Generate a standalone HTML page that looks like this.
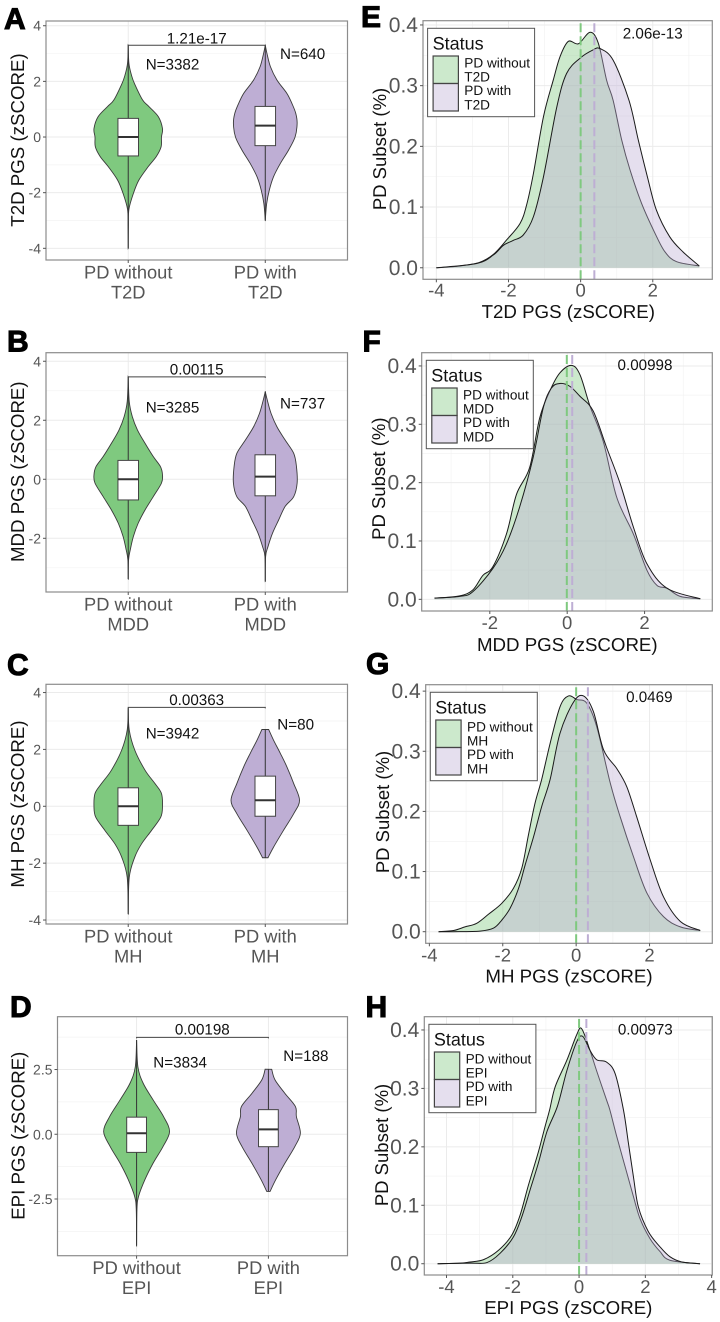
<!DOCTYPE html>
<html lang="en">
<head>
<meta charset="utf-8">
<title>PGS violin and density panels</title>
<style>
html,body{margin:0;padding:0;background:#fff;}
svg{display:block;font-family:"Liberation Sans",Arial,sans-serif;text-rendering:geometricPrecision;}
</style>
</head>
<body>
<svg id="figure" width="720" height="1322" viewBox="0 0 720 1322" xmlns="http://www.w3.org/2000/svg"></svg>
<script>
/* ---------- violin panel data (score, relative density) ---------- */
const violinATicks = [4, 2, 0, -2, -4];
const violinBTicks = [4, 2, 0, -2];
const violinCTicks = [4, 2, 0, -2, -4];
const violinDTicks = [2.5, 0, -2.5];
const violinDTickLabels = ['2.5', '0.0', '-2.5'];

const violinAGreenScores = [3.3, 2.65, 2.2, 1.9, 1.33, 1.1, 0.73, 0.3, 0, -0.35, -0.7, -1.07, -1.55, -2.03, -2.6, -3.2, -4];
const violinAGreenDensity = [0, 0.02, 0.1, 0.19, 0.42, 0.6, 0.88, 1, 0.97, 0.96, 0.82, 0.58, 0.31, 0.15, 0.02, 0.005, 0];
const violinAPurpleScores = [3.3, 3.0, 2.53, 2.05, 1.57, 1.2, 0.85, 0.49, 0, -0.47, -0.95, -1.43, -1.9, -2.4, -3.0];
const violinAPurpleDensity = [0, 0.05, 0.15, 0.34, 0.63, 0.78, 0.89, 0.93, 0.87, 0.68, 0.44, 0.24, 0.12, 0.04, 0];
const violinBGreenScores = [3.47, 2.63, 2.12, 1.67, 1.22, 0.77, 0.43, 0.15, -0.13, -0.59, -1.04, -1.49, -1.94, -2.39, -2.73, -3.38];
const violinBGreenDensity = [0, 0.03, 0.12, 0.27, 0.49, 0.73, 0.94, 1, 0.97, 0.73, 0.49, 0.29, 0.15, 0.06, 0.01, 0];
const violinBPurpleScores = [2.97, 2.68, 2.23, 1.78, 1.33, 0.88, 0.43, -0.13, -0.59, -0.92, -1.38, -1.83, -2.28, -2.62, -3.46];
const violinBPurpleDensity = [0, 0.06, 0.17, 0.34, 0.58, 0.83, 0.91, 0.93, 0.83, 0.58, 0.39, 0.21, 0.08, 0.01, 0];
const violinCGreenScores = [3.45, 2.68, 1.98, 1.27, 0.8, 0.45, 0, -0.38, -0.85, -1.32, -1.79, -2.5, -3.79];
const violinCGreenDensity = [0, 0.03, 0.19, 0.49, 0.78, 0.97, 1, 0.95, 0.68, 0.39, 0.19, 0.03, 0];
const violinCPurpleScores = [2.7, 2.33, 1.86, 1.39, 0.8, 0.21, -0.26, -0.85, -1.44, -1.81];
const violinCPurpleDensity = [0.1, 0.24, 0.44, 0.63, 0.83, 1, 0.83, 0.53, 0.24, 0.08];
const violinDGreenScores = [3.64, 2.6, 1.97, 1.33, 0.68, 0.1, -0.48, -1.12, -1.76, -2.4, -2.92, -4.3];
const violinDGreenDensity = [0, 0.04, 0.2, 0.5, 0.82, 1, 0.8, 0.5, 0.25, 0.06, 0.01, 0];
const violinDPurpleScores = [2.51, 2.1, 1.58, 1.07, 0.68, 0.04, -0.48, -1.12, -1.76, -2.21];
const violinDPurpleDensity = [0.1, 0.2, 0.5, 0.82, 0.85, 0.97, 0.8, 0.5, 0.22, 0.05];

/* box stats: lower quartile, median, upper quartile */
const boxAGreen = [-0.68, 0, 0.67];
const boxAPurple = [-0.31, 0.41, 1.1];
const boxBGreen = [-0.7, 0, 0.64];
const boxBPurple = [-0.56, 0.09, 0.83];
const boxCGreen = [-0.67, 0, 0.65];
const boxCPurple = [-0.35, 0.21, 1.06];
const boxDGreen = [-0.7, 0.04, 0.66];
const boxDPurple = [-0.48, 0.19, 0.95];

const bracketScores = [3.3, 3.47, 3.48, 3.74];

/* ---------- density panel data (z-score, density) ---------- */
const densityETicksX = [-4, -2, 0, 2];
const densityFTicksX = [-2, 0, 2];
const densityGTicksX = [-4, -2, 0, 2];
const densityHTicksX = [-4, -2, 0, 2, 4];
const densityTicksY = [0, 0.1, 0.2, 0.3, 0.4];

const densityEGreenX = [-4, -3.35, -2.8, -2.42, -2.05, -1.68, -1.5, -1.31, -1.03, -0.76, -0.57, -0.34, -0.06, 0.26, 0.49, 0.72, 0.9, 1.14, 1.37, 1.69, 2.06, 2.34, 2.66, 3.29];
const densityEGreenY = [0, 0.003, 0.009, 0.022, 0.046, 0.073, 0.103, 0.155, 0.249, 0.309, 0.348, 0.373, 0.369, 0.388, 0.37, 0.309, 0.276, 0.21, 0.161, 0.106, 0.057, 0.026, 0.01, 0.003];
const densityEPurpleX = [-4, -2.88, -2.42, -2.14, -1.87, -1.59, -1.31, -1.03, -0.66, -0.39, -0.02, 0.35, 0.54, 0.9, 1.34, 1.6, 1.85, 2.1, 2.47, 2.84, 3.29];
const densityEPurpleY = [0, 0.007, 0.021, 0.037, 0.045, 0.054, 0.084, 0.15, 0.265, 0.32, 0.345, 0.359, 0.361, 0.342, 0.276, 0.21, 0.15, 0.095, 0.051, 0.026, 0.003];
const densityFGreenX = [-3.43, -2.78, -2.44, -2.18, -1.92, -1.57, -1.31, -0.97, -0.71, -0.45, -0.19, 0.11, 0.33, 0.59, 0.93, 1.28, 1.71, 2.06, 2.32, 2.58, 2.92, 3.44];
const densityFGreenY = [0.002, 0.006, 0.016, 0.041, 0.056, 0.112, 0.18, 0.226, 0.311, 0.357, 0.388, 0.401, 0.385, 0.331, 0.271, 0.175, 0.112, 0.05, 0.024, 0.019, 0.005, 0.001];
const densityFPurpleX = [-3.43, -2.78, -2.44, -1.92, -1.57, -1.23, -0.88, -0.62, -0.41, -0.19, 0.07, 0.33, 0.67, 1.02, 1.37, 1.71, 2.06, 2.58, 3.44];
const densityFPurpleY = [0.002, 0.005, 0.013, 0.053, 0.095, 0.158, 0.243, 0.328, 0.362, 0.37, 0.365, 0.348, 0.323, 0.26, 0.198, 0.124, 0.061, 0.019, 0.001];
const densityGGreenX = [-3.75, -3.34, -3.03, -2.71, -2.39, -2.03, -1.71, -1.48, -1.3, -1.12, -0.94, -0.71, -0.44, -0.21, 0.02, 0.29, 0.56, 0.93, 1.2, 1.56, 1.93, 2.38, 2.84, 3.38];
const densityGGreenY = [0, 0.002, 0.008, 0.014, 0.029, 0.047, 0.072, 0.106, 0.161, 0.214, 0.253, 0.313, 0.374, 0.392, 0.386, 0.38, 0.341, 0.247, 0.191, 0.125, 0.064, 0.025, 0.008, 0.002];
const densityGPurpleX = [-3.75, -3.34, -2.62, -2.25, -2.03, -1.8, -1.57, -1.39, -1.16, -0.94, -0.71, -0.44, -0.07, 0.2, 0.47, 0.75, 1.11, 1.38, 1.65, 2.02, 2.38, 2.84, 3.38];
const densityGPurpleY = [0, 0, 0.001, 0.006, 0.019, 0.039, 0.072, 0.111, 0.158, 0.208, 0.253, 0.33, 0.382, 0.392, 0.366, 0.302, 0.271, 0.241, 0.191, 0.119, 0.058, 0.017, 0.002];
const densityHGreenX = [-4.27, -3.59, -3.29, -2.88, -2.43, -2.03, -1.78, -1.53, -1.23, -1.03, -0.89, -0.72, -0.37, -0.07, 0.08, 0.33, 0.53, 0.83, 0.93, 1.14, 1.39, 1.64, 1.84, 2.14, 2.44, 2.74, 3.65];
const densityHGreenY = [0, 0.001, 0.003, 0.007, 0.023, 0.049, 0.083, 0.134, 0.191, 0.234, 0.263, 0.303, 0.348, 0.392, 0.402, 0.365, 0.33, 0.28, 0.263, 0.217, 0.166, 0.115, 0.077, 0.043, 0.021, 0.006, 0];
const densityHPurpleX = [-4.27, -3.29, -2.78, -2.38, -1.98, -1.73, -1.48, -1.23, -0.97, -0.65, -0.37, -0.07, 0.11, 0.33, 0.53, 0.83, 1.09, 1.34, 1.49, 1.64, 1.79, 2.09, 2.44, 2.74, 3.1, 3.65];
const densityHPurpleY = [0, 0.001, 0.002, 0.018, 0.046, 0.08, 0.126, 0.172, 0.226, 0.27, 0.33, 0.38, 0.389, 0.365, 0.349, 0.345, 0.325, 0.263, 0.206, 0.149, 0.097, 0.055, 0.029, 0.012, 0.003, 0];

/* mean z-score for each dashed reference line: without, with */
const meansE = [0, 0.38];
const meansF = [-0.01, 0.13];
const meansG = [0, 0.32];
const meansH = [0, 0.22];

/* ---------- layout ---------- */
const GREEN = '#7fc97f';
const PURPLE = '#beaed4';
const NS = 'http://www.w3.org/2000/svg';
const figure = document.getElementById('figure');

const violinPanels = [
  {id:'a', letter:'A', lx:4, ly:29, left:46, top:21, right:347.5, bottom:260, domain:[-4.42,4.17], ticks:violinATicks, labels:violinATicks.map(String), minorStep:2,
   title:'T2D PGS (zSCORE)', titleX:24, titleY:140, cond:'T2D', catY:278.3,
   green:[violinAGreenScores,violinAGreenDensity,boxAGreen], purple:[violinAPurpleScores,violinAPurpleDensity,boxAPurple], bracket:bracketScores[0],
   p:'1.21e-17', pX:196.7, pY:43.3, n1:'N=3382', n1X:145.7, n1Y:69.3, n2:'N=640', n2X:280, n2Y:59},
  {id:'b', letter:'B', lx:7, ly:351.7, left:46, top:352.7, right:347.5, bottom:592, domain:[-3.82,4.29], ticks:violinBTicks, labels:violinBTicks.map(String), minorStep:2,
   title:'MDD PGS (zSCORE)', titleX:24, titleY:471.7, cond:'MDD', catY:610.7,
   green:[violinBGreenScores,violinBGreenDensity,boxBGreen], purple:[violinBPurpleScores,violinBPurpleDensity,boxBPurple], bracket:bracketScores[1],
   p:'0.00115', pX:196.7, pY:374.3, n1:'N=3285', n1X:145.7, n1Y:412.3, n2:'N=737', n2X:280, n2Y:408.3},
  {id:'c', letter:'C', lx:7, ly:675, left:46, top:684.3, right:347.5, bottom:924, domain:[-4.14,4.29], ticks:violinCTicks, labels:violinCTicks.map(String), minorStep:2,
   title:'MH PGS (zSCORE)', titleX:24, titleY:804, cond:'MH', catY:942.7,
   green:[violinCGreenScores,violinCGreenDensity,boxCGreen], purple:[violinCPurpleScores,violinCPurpleDensity,boxCPurple], bracket:bracketScores[2],
   p:'0.00363', pX:196.7, pY:705, n1:'N=3942', n1X:145.7, n1Y:738.7, n2:'N=80', n2X:277.3, n2Y:729.3},
  {id:'d', letter:'D', lx:10, ly:1017, left:57.5, top:1016.7, right:347.5, bottom:1255.7, domain:[-4.69,4.54], ticks:violinDTicks, labels:violinDTickLabels, minorStep:2.5,
   title:'EPI PGS (zSCORE)', titleX:24.5, titleY:1135.7, cond:'EPI', catY:1274,
   green:[violinDGreenScores,violinDGreenDensity,boxDGreen], purple:[violinDPurpleScores,violinDPurpleDensity,boxDPurple], bracket:bracketScores[3],
   p:'0.00198', pX:202.3, pY:1034.3, n1:'N=3834', n1X:153.3, n1Y:1067.3, n2:'N=188', n2X:283.3, n2Y:1061}
];

const densityPanels = [
  {id:'e', letter:'E', lx:361, ly:27, left:423, top:20.7, right:712.3, bottom:279.3, xDomain:[-4.37,3.65], yDomain:[-0.019,0.407], ticksX:densityETicksX,
   title:'T2D PGS (zSCORE)', cond:'T2D', titleX:568.3, titleBase:318, tickBase:296.7, yTitleX:386, yTitleY:149,
   green:[densityEGreenX,densityEGreenY], purple:[densityEPurpleX,densityEPurpleY], means:meansE, p:'2.06e-13', pX:652.7, pY:38.3},
  {id:'f', letter:'F', lx:362.5, ly:351.7, left:421.7, top:352.7, right:712.3, bottom:611, xDomain:[-3.76,3.75], yDomain:[-0.02,0.4227], ticksX:densityFTicksX,
   title:'MDD PGS (zSCORE)', cond:'MDD', titleX:567.3, titleBase:651, tickBase:629, yTitleX:385, yTitleY:478.7,
   green:[densityFGreenX,densityFGreenY], purple:[densityFPurpleX,densityFPurpleY], means:meansF, p:'0.00998', pX:645, pY:370},
  {id:'g', letter:'G', lx:366, ly:674, left:425.7, top:684.7, right:712.3, bottom:943.3, xDomain:[-4.1,3.71], yDomain:[-0.0193,0.4107], ticksX:densityGTicksX,
   title:'MH PGS (zSCORE)', cond:'MH', titleX:569, titleBase:982.7, tickBase:961.7, yTitleX:389, yTitleY:812,
   green:[densityGGreenX,densityGGreenY], purple:[densityGPurpleX,densityGPurpleY], means:meansG, p:'0.0469', pX:649.3, pY:702},
  {id:'h', letter:'H', lx:365.5, ly:1017, left:424.3, top:1016.7, right:712.3, bottom:1275, xDomain:[-4.67,4.02], yDomain:[-0.0193,0.4227], ticksX:densityHTicksX,
   title:'EPI PGS (zSCORE)', cond:'EPI', titleX:568.3, titleBase:1314, tickBase:1293, yTitleX:388, yTitleY:1145,
   green:[densityHGreenX,densityHGreenY], purple:[densityHPurpleX,densityHPurpleY], means:meansH, p:'0.00973', pX:645.3, pY:1034.3}
];

/* ---------- helpers ---------- */
function make(tag, attrs, parent) {
  const el = document.createElementNS(NS, tag);
  for (const key in attrs) el.setAttribute(key, attrs[key]);
  parent.appendChild(el);
  return el;
}
function write(parent, str, x, y, size, fill, anchor) {
  const el = make('text', {x: x, y: y, 'font-size': size, fill: fill, 'text-anchor': anchor || 'start'}, parent);
  el.textContent = str;
  return el;
}
function linear(domain, range) {
  return function (v) {
    return range[0] + (v - domain[0]) / (domain[1] - domain[0]) * (range[1] - range[0]);
  };
}
function smooth(pts) {
  let d = '';
  for (let i = 0; i < pts.length - 1; i++) {
    const p0 = pts[Math.max(i - 1, 0)], p1 = pts[i], p2 = pts[i + 1], p3 = pts[Math.min(i + 2, pts.length - 1)];
    const c1x = p1[0] + (p2[0] - p0[0]) / 6, c1y = p1[1] + (p2[1] - p0[1]) / 6;
    const c2x = p2[0] - (p3[0] - p1[0]) / 6, c2y = p2[1] - (p3[1] - p1[1]) / 6;
    d += 'C' + c1x.toFixed(2) + ' ' + c1y.toFixed(2) + ' ' + c2x.toFixed(2) + ' ' + c2y.toFixed(2) + ' ' + p2[0].toFixed(2) + ' ' + p2[1].toFixed(2);
  }
  return d;
}
function minorValues(ticks, step, domain) {
  const out = [];
  const start = Math.min.apply(null, ticks);
  for (let k = -6; k < 20; k++) {
    const v = start + step * k + step / 2;
    if (v > domain[0] && v < domain[1]) out.push(v);
  }
  return out;
}
function gridLine(parent, x1, y1, x2, y2, major) {
  const el = make('line', {x1: x1, y1: y1, x2: x2, y2: y2, stroke: major ? '#ebebeb' : '#f3f3f3', 'stroke-width': major ? 1 : 0.7}, parent);
  
  
}
function tickMark(parent, x1, y1, x2, y2) {
  const el = make('line', {x1: x1, y1: y1, x2: x2, y2: y2, stroke: '#555', 'stroke-width': 1}, parent);
  
  
}
function rotatedTitle(parent, str, x, y, size, name) {
  const el = write(parent, str, 0, 0, size, '#111', 'middle');
  el.setAttribute('transform', 'translate(' + x + ' ' + y + ') rotate(-90)');
  
  
}
function panelLetter(parent, panel) {
  const el = write(parent, panel.letter, panel.lx, panel.ly, 30, '#000');
  el.setAttribute('font-weight', 'bold');
  el.setAttribute('stroke', '#000');
  el.setAttribute('stroke-width', '1');
  
  
}
function panelBorder(parent, panel) {
  const el = make('rect', {x: panel.left, y: panel.top, width: panel.right - panel.left, height: panel.bottom - panel.top, fill: 'none', stroke: '#8c8c8c', 'stroke-width': 1.2}, parent);
  
  
}

/* ---------- violin panels ---------- */
function drawViolin(parent, cx, bandUnit, y, series, fill, name) {
  const scores = series[0], dens = series[1], box = series[2];
  const maxHalf = bandUnit * 0.25, boxHalf = bandUnit * 0.075;
  const right = scores.map(function (s, i) { return [cx + dens[i] * maxHalf, y(s)]; });
  const left = scores.map(function (s, i) { return [cx - dens[i] * maxHalf, y(s)]; }).reverse();
  const d = 'M' + right[0][0] + ' ' + right[0][1] + smooth(right) + 'L' + left[0][0] + ' ' + left[0][1] + smooth(left) + 'Z';
  const body = make('path', {d: d, fill: fill, stroke: '#3a3a3a', 'stroke-width': 0.9}, parent);
  
  
  const whisker = make('line', {x1: cx, x2: cx, y1: y(Math.max.apply(null, scores)), y2: y(Math.min.apply(null, scores)), stroke: '#333', 'stroke-width': 1}, parent);
  
  
  const rect = make('rect', {x: cx - boxHalf, width: boxHalf * 2, y: y(box[2]), height: y(box[0]) - y(box[2]), fill: '#fff', stroke: '#444', 'stroke-width': 1}, parent);
  
  
  const median = make('line', {x1: cx - boxHalf, x2: cx + boxHalf, y1: y(box[1]), y2: y(box[1]), stroke: '#333', 'stroke-width': 2}, parent);
  
  
}

violinPanels.forEach(function (panel) {
  const g = make('g', {}, figure);
  
  
  const y = linear(panel.domain, [panel.bottom, panel.top]);
  const bandUnit = (panel.right - panel.left) / 2.2;
  const x1 = panel.left + 0.6 * bandUnit, x2 = panel.left + 1.6 * bandUnit;

  panelLetter(g, panel);
  minorValues(panel.ticks, panel.minorStep, panel.domain).forEach(function (v) {
    gridLine(g, panel.left, y(v), panel.right, y(v), false);
  });
  panel.ticks.forEach(function (v) {
    gridLine(g, panel.left, y(v), panel.right, y(v), true);
  });
  gridLine(g, x1, panel.top, x1, panel.bottom, true);
  gridLine(g, x2, panel.top, x2, panel.bottom, true);

  drawViolin(g, x1, bandUnit, y, panel.green, GREEN, 'without-' + panel.cond.toLowerCase());
  drawViolin(g, x2, bandUnit, y, panel.purple, PURPLE, 'with-' + panel.cond.toLowerCase());

  const by = y(panel.bracket);
  const bracket = make('path', {d: 'M' + x1 + ' ' + (by + 1) + 'V' + by + 'H' + x2 + 'V' + (by + 1), fill: 'none', stroke: '#444', 'stroke-width': 1}, g);
  
  
  const pText = write(g, panel.p, panel.pX, panel.pY, 15.2, '#111', 'middle');
  
  
  const n1 = write(g, panel.n1, panel.n1X, panel.n1Y, 15.2, '#111');
  
  
  const n2 = write(g, panel.n2, panel.n2X, panel.n2Y, 15.2, '#111');
  
  

  panelBorder(g, panel);

  panel.ticks.forEach(function (v, i) {
    tickMark(g, panel.left - 3, y(v), panel.left, y(v));
    const label = write(g, panel.labels[i], panel.left - 5, y(v) + 5, 14, '#555', 'end');
    
    
  });
  [[x1, 'PD without'], [x2, 'PD with']].forEach(function (cat) {
    tickMark(g, cat[0], panel.bottom, cat[0], panel.bottom + 3);
    const line1 = write(g, cat[1], cat[0], panel.catY, 18.3, '#555', 'middle');
    
    
    const line2 = write(g, panel.cond, cat[0], panel.catY + 20, 18.3, '#555', 'middle');
    
    
  });
  rotatedTitle(g, panel.title, panel.titleX, panel.titleY, 18.7, 'y-axis-title');
});

/* ---------- density panels ---------- */
function drawDensity(parent, series, x, y, fill, name) {
  const pts = series[0].map(function (v, i) { return [x(v), y(series[1][i])]; });
  const first = pts[0], last = pts[pts.length - 1];
  const area = make('path', {d: 'M' + first[0] + ' ' + y(0) + 'L' + first[0] + ' ' + first[1] + smooth(pts) + 'L' + last[0] + ' ' + y(0) + 'Z', fill: fill, 'fill-opacity': 0.4, stroke: 'none'}, parent);
  
  
  const line = make('path', {d: 'M' + first[0] + ' ' + first[1] + smooth(pts), fill: 'none', stroke: '#1a1a1a', 'stroke-width': 1}, parent);
  
  
}

densityPanels.forEach(function (panel) {
  const g = make('g', {}, figure);
  
  
  const x = linear(panel.xDomain, [panel.left, panel.right]);
  const y = linear(panel.yDomain, [panel.bottom, panel.top]);

  panelLetter(g, panel);
  minorValues(panel.ticksX, 2, panel.xDomain).forEach(function (v) {
    gridLine(g, x(v), panel.top, x(v), panel.bottom, false);
  });
  minorValues(densityTicksY, 0.1, panel.yDomain).forEach(function (v) {
    gridLine(g, panel.left, y(v), panel.right, y(v), false);
  });
  panel.ticksX.forEach(function (v) {
    gridLine(g, x(v), panel.top, x(v), panel.bottom, true);
  });
  densityTicksY.forEach(function (v) {
    gridLine(g, panel.left, y(v), panel.right, y(v), true);
  });

  drawDensity(g, panel.green, x, y, GREEN, 'without-' + panel.cond.toLowerCase());
  drawDensity(g, panel.purple, x, y, PURPLE, 'with-' + panel.cond.toLowerCase());

  const meanA = make('line', {x1: x(panel.means[0]), x2: x(panel.means[0]), y1: panel.bottom, y2: panel.top, stroke: GREEN, 'stroke-width': 2, 'stroke-dasharray': '9 4'}, g);
  
  
  const meanB = make('line', {x1: x(panel.means[1]), x2: x(panel.means[1]), y1: panel.bottom, y2: panel.top, stroke: PURPLE, 'stroke-width': 2, 'stroke-dasharray': '9 4'}, g);
  
  

  panelBorder(g, panel);

  const pText = write(g, panel.p, panel.pX, panel.pY, 15.2, '#111', 'middle');
  
  

  /* legend */
  const lx = panel.left + 4.6, ly = panel.top + 7.6;
  const legend = make('g', {}, g);
  
  
  const frame = make('rect', {x: lx, y: ly, width: 107, height: 88.4, fill: '#fff', stroke: '#555', 'stroke-width': 1}, legend);
  
  
  const heading = write(legend, 'Status', lx + 5, ly + 21, 18, '#111');
  
  
  const keyG = make('rect', {x: lx + 5.5, y: ly + 27.7, width: 25.3, height: 27.5, fill: GREEN, 'fill-opacity': 0.4, stroke: '#444', 'stroke-width': 1.2}, legend);
  
  
  const keyP = make('rect', {x: lx + 5.5, y: ly + 55.2, width: 25.3, height: 27.5, fill: PURPLE, 'fill-opacity': 0.4, stroke: '#444', 'stroke-width': 1.2}, legend);
  
  
  [['PD without', 39], [panel.cond, 53.2], ['PD with', 66.8], [panel.cond, 81]].forEach(function (row) {
    const t = write(legend, row[0], lx + 36.7, ly + row[1], 13.6, '#111');
    
    
  });

  /* axes */
  densityTicksY.forEach(function (v) {
    tickMark(g, panel.left - 3, y(v), panel.left, y(v));
    const label = write(g, v.toFixed(1), panel.left - 5, y(v) + 7, 21, '#555', 'end');
    
    
  });
  panel.ticksX.forEach(function (v) {
    tickMark(g, x(v), panel.bottom, x(v), panel.bottom + 3);
    const label = write(g, String(v), x(v), panel.tickBase, 18.5, '#555', 'middle');
    
    
  });
  const xTitle = write(g, panel.title, panel.titleX, panel.titleBase, 18.7, '#111', 'middle');
  
  
  rotatedTitle(g, 'PD Subset (%)', panel.yTitleX, panel.yTitleY, 18.5, 'y-axis-title');
});
</script>
</body>
</html>
